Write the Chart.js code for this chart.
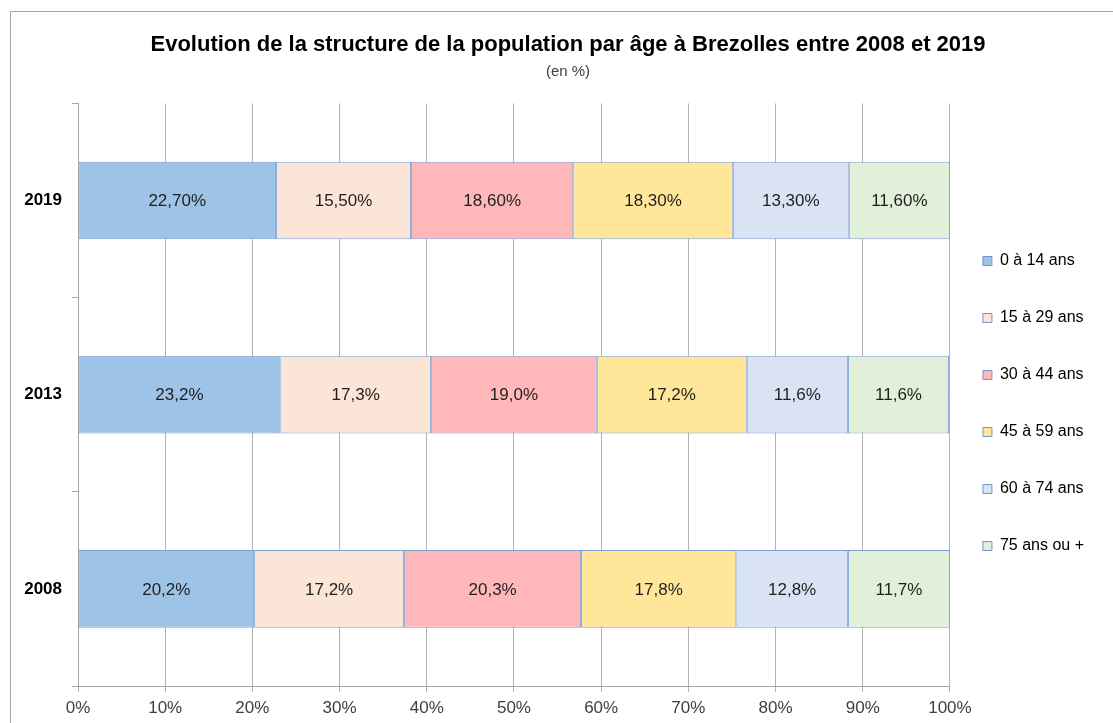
<!DOCTYPE html>
<html>
<head>
<meta charset="utf-8">
<script src="https://cdn.jsdelivr.net/npm/chart.js@4.4.0/dist/chart.umd.min.js"></script>
<style>
  html, body { margin: 0; padding: 0; background: #fff; }
  #wrap { position: relative; width: 1113px; height: 723px; overflow: hidden; }
  #frame { position: absolute; left: 10px; top: 11px; width: 1200px; height: 800px;
           border-top: 1px solid #a6a6a6; border-left: 1px solid #a6a6a6; pointer-events: none; }
</style>
</head>
<body>
<div id="wrap">
  <canvas id="myChart" width="1113" height="723"></canvas>
  <div id="frame"></div>
</div>
<script>
// --- données ---
const years = ['2019', '2013', '2008'];
const decimals = [2, 1, 1]; // 2019 affiché avec 2 décimales

const ageGroups = ['0 à 14 ans', '15 à 29 ans', '30 à 44 ans', '45 à 59 ans', '60 à 74 ans', '75 ans ou +'];
const age0_14  = [22.7, 23.2, 20.2];
const age15_29 = [15.5, 17.3, 17.2];
const age30_44 = [18.6, 19.0, 20.3];
const age45_59 = [18.3, 17.2, 17.8];
const age60_74 = [13.3, 11.6, 12.8];
const age75    = [11.6, 11.6, 11.7];

const xTicks = [0, 10, 20, 30, 40, 50, 60, 70, 80, 90, 100];

const colors = ['#9DC3E6', '#FBE5D6', '#FFB7B9', '#FFE699', '#DAE3F3', '#E2F0D9'];
const series = [age0_14, age15_29, age30_44, age45_59, age60_74, age75];

const font = "Arial, 'Liberation Sans', sans-serif";

const ctx = document.getElementById('myChart');

const datasets = series.map((values, i) => ({
    label: ageGroups[i],
    data: values,
    backgroundColor: colors[i],
    borderColor: '#7F9FD8',
    borderWidth: 1,
    borderSkipped: false,
    barPercentage: 0.4,
    categoryPercentage: 1
}));

// étiquettes au centre de chaque segment
const valueLabels = {
    id: 'valueLabels',
    afterDatasetsDraw(chart) {
        const c = chart.ctx;
        c.save();
        c.font = '17px ' + font;
        c.fillStyle = '#1f1f1f';
        c.textAlign = 'center';
        c.textBaseline = 'middle';
        chart.data.datasets.forEach((ds, di) => {
            const meta = chart.getDatasetMeta(di);
            meta.data.forEach((bar, i) => {
                const txt = ds.data[i].toFixed(decimals[i]).replace('.', ',') + '%';
                c.fillText(txt, (bar.x + bar.base) / 2, bar.y + 1);
            });
        });
        c.restore();
    }
};

// petits décalages (légende, titre) pour coller à l'original
const layoutShift = {
    id: 'layoutShift',
    afterLayout(chart) {
        const lg = chart.legend;
        lg.top += 42; lg.bottom += 42;
        lg.left -= 8; lg.right -= 8;
        chart.boxes.forEach(b => {
            if (b.position === 'top' && b.options && typeof b.options.text === 'string') {
                b.left += 17; b.right += 17;
            }
        });
    }
};

const config = {
    type: 'bar',
    data: { labels: years, datasets: datasets },
    options: {
        indexAxis: 'y',
        responsive: false,
        animation: false,
        layout: { padding: { left: 0, right: 11, top: 0, bottom: 0 } },
        scales: {
            x: {
                stacked: true,
                min: 0,
                max: 100,
                afterBuildTicks: s => { s.ticks = xTicks.map(v => ({ value: v })); },
                afterFit: s => { s.height = 37; },
                ticks: {
                    callback: v => v + '%',
                    color: '#404040',
                    font: { size: 17, family: font },
                    padding: 6,
                    maxRotation: 0
                },
                grid: { color: '#b4b4b4', tickLength: 6, tickColor: '#b4b4b4' },
                border: { display: true, color: '#a6a6a6' }
            },
            y: {
                stacked: true,
                afterFit: s => { s.width = 78; },
                ticks: {
                    color: '#000',
                    font: { size: 17, weight: 'bold', family: font },
                    padding: 10
                },
                grid: { drawOnChartArea: false, tickLength: 6, color: '#a6a6a6' },
                border: { display: true, color: '#a6a6a6' }
            }
        },
        plugins: {
            title: {
                display: true,
                text: 'Evolution de la structure de la population par âge à Brezolles entre 2008 et 2019',
                color: '#000',
                font: { size: 22, weight: 'bold', family: font },
                padding: { top: 32, bottom: 2 }
            },
            subtitle: {
                display: true,
                text: '(en %)',
                color: '#404040',
                font: { size: 15, family: font },
                padding: { top: 2, bottom: 23 }
            },
            legend: {
                position: 'right',
                labels: {
                    boxWidth: 9,
                    boxHeight: 9,
                    padding: 41,
                    color: '#262626',
                    font: { size: 16, family: font },
                    generateLabels(chart) {
                        return chart.data.datasets.map((ds, i) => ({
                            text: ds.label,
                            fillStyle: ds.backgroundColor,
                            strokeStyle: '#6F95D3',
                            lineWidth: 1,
                            datasetIndex: i
                        }));
                    }
                }
            },
            tooltip: { enabled: false }
        }
    },
    plugins: [valueLabels, layoutShift]
};

const myChart = new Chart(ctx, config);
</script>
</body>
</html>
